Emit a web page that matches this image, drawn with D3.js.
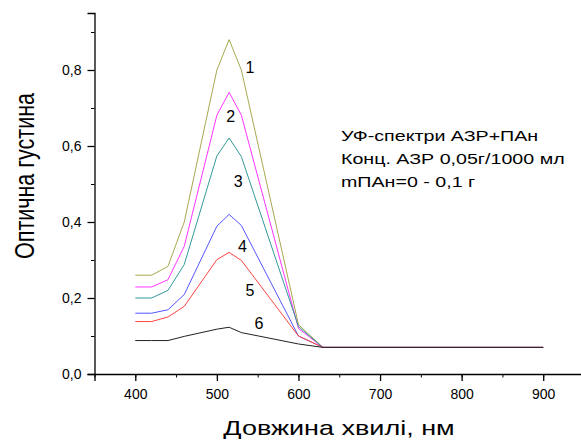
<!DOCTYPE html>
<html>
<head>
<meta charset="utf-8">
<script src="https://cdn.jsdelivr.net/npm/d3@7"></script>
<style>
  body { margin: 0; background: #fff; }
  svg { font-family: "Liberation Sans", Arial, sans-serif; display: block; }
</style>
</head>
<body>
<svg id="chart" width="581" height="441"></svg>
<script>
// Wavelengths (nm) of the measured points
const wavelengths = [400, 420, 440, 460, 500, 515, 530, 600, 630, 900];

// Optical density for each curve 1..6
const curve1 = [0.26, 0.26, 0.283, 0.40, 0.80, 0.88, 0.80, 0.13, 0.07, 0.07];
const curve2 = [0.229, 0.229, 0.248, 0.336, 0.681, 0.741, 0.681, 0.12, 0.07, 0.07];
const curve3 = [0.20, 0.20, 0.22, 0.288, 0.574, 0.621, 0.572, 0.125, 0.07, 0.07];
const curve4 = [0.16, 0.16, 0.169, 0.209, 0.389, 0.42, 0.391, 0.10, 0.07, 0.07];
const curve5 = [0.138, 0.138, 0.15, 0.178, 0.301, 0.32, 0.299, 0.10, 0.07, 0.07];
const curve6 = [0.088, 0.088, 0.088, 0.099, 0.118, 0.123, 0.109, 0.079, 0.07, 0.07];

const curveNames = ["1", "2", "3", "4", "5", "6"];
const curveColors = ["#a8a850", "#ff33ff", "#339999", "#5555ff", "#ff4444", "#222222"];

const xTicks = [400, 500, 600, 700, 800, 900];
const yTicks = [0, 0.2, 0.4, 0.6, 0.8];

const noteLines = ["УФ-спектри АЗР+ПАн", "Конц. АЗР 0,05г/1000 мл", "mПАн=0 - 0,1 г"];

const svg = d3.select("#chart");

// Axis area
const x = d3.scaleLinear().domain([350, 950]).range([94.5, 584]);
const y = d3.scaleLinear().domain([0, 0.95]).range([374, 13]);

const fmt = (d) => d3.format(".1f")(d).replace(".", ",");

// Minor ticks first so major ticks draw on top
svg.append("g")
  .attr("transform", "translate(0,374)")
  .call(d3.axisBottom(x).tickValues(d3.range(350, 951, 50)).tickSize(3.5).tickFormat(""))
  .call((g) => g.select(".domain").remove());

svg.append("g")
  .attr("transform", "translate(94.5,0)")
  .call(d3.axisLeft(y).tickValues(d3.range(0.1, 0.95, 0.2)).tickSize(3.5).tickFormat(""))
  .call((g) => g.select(".domain").remove());

const xAxis = svg.append("g")
  .attr("transform", "translate(0,374)")
  .call(d3.axisBottom(x).tickValues(xTicks).tickSizeOuter(0).tickSize(7).tickPadding(8));

const yAxis = svg.append("g")
  .attr("transform", "translate(94.5,0)")
  .call(d3.axisLeft(y).tickValues(yTicks).tickSizeOuter(0).tickSize(7).tickPadding(6).tickFormat(fmt));

[xAxis, yAxis].forEach((g) => {
  g.selectAll("text").attr("font-size", 14).attr("fill", "#000")
    .attr("font-family", "Liberation Sans, Arial, sans-serif");
  g.selectAll("line, path").attr("stroke", "#000").attr("stroke-width", 1.3);
});

// Curves
const allCurves = [curve1, curve2, curve3, curve4, curve5, curve6];
const line = d3.line()
  .x((d, i) => x(wavelengths[i]))
  .y((d) => y(d));

svg.append("g")
  .selectAll("path")
  .data(allCurves)
  .enter()
  .append("path")
  .attr("d", line)
  .attr("fill", "none")
  .attr("stroke", (d, i) => curveColors[i])
  .attr("stroke-width", 1);

// Curve numbers (wavelength, density of the baseline point)
const labelPos = [[540.6, 0.792], [517.1, 0.664], [526.2, 0.493], [531.4, 0.322], [540.6, 0.205], [551.6, 0.118]];
svg.append("g")
  .selectAll("text")
  .data(curveNames)
  .enter()
  .append("text")
  .attr("x", (d, i) => x(labelPos[i][0]))
  .attr("y", (d, i) => y(labelPos[i][1]))
  .attr("text-anchor", "middle")
  .attr("font-size", 16)
  .text((d) => d);

// Note text (the original is stretched sideways)
svg.append("g")
  .selectAll("text")
  .data(noteLines)
  .enter()
  .append("text")
  .attr("transform", (d, i) => `translate(341,${140.7 + i * 23}) scale(1.31,1)`)
  .attr("font-size", 15)
  .text((d) => d);

// Axis titles
svg.append("text")
  .attr("transform", "translate(339,434.5) scale(1.35,1)")
  .attr("text-anchor", "middle")
  .attr("font-size", 20)
  .text("Довжина хвилі, нм");

svg.append("text")
  .attr("transform", "translate(34,176) scale(1.3,1) rotate(-90)")
  .attr("text-anchor", "middle")
  .attr("font-size", 21.5)
  .text("Оптична густина");
</script>
</body>
</html>
